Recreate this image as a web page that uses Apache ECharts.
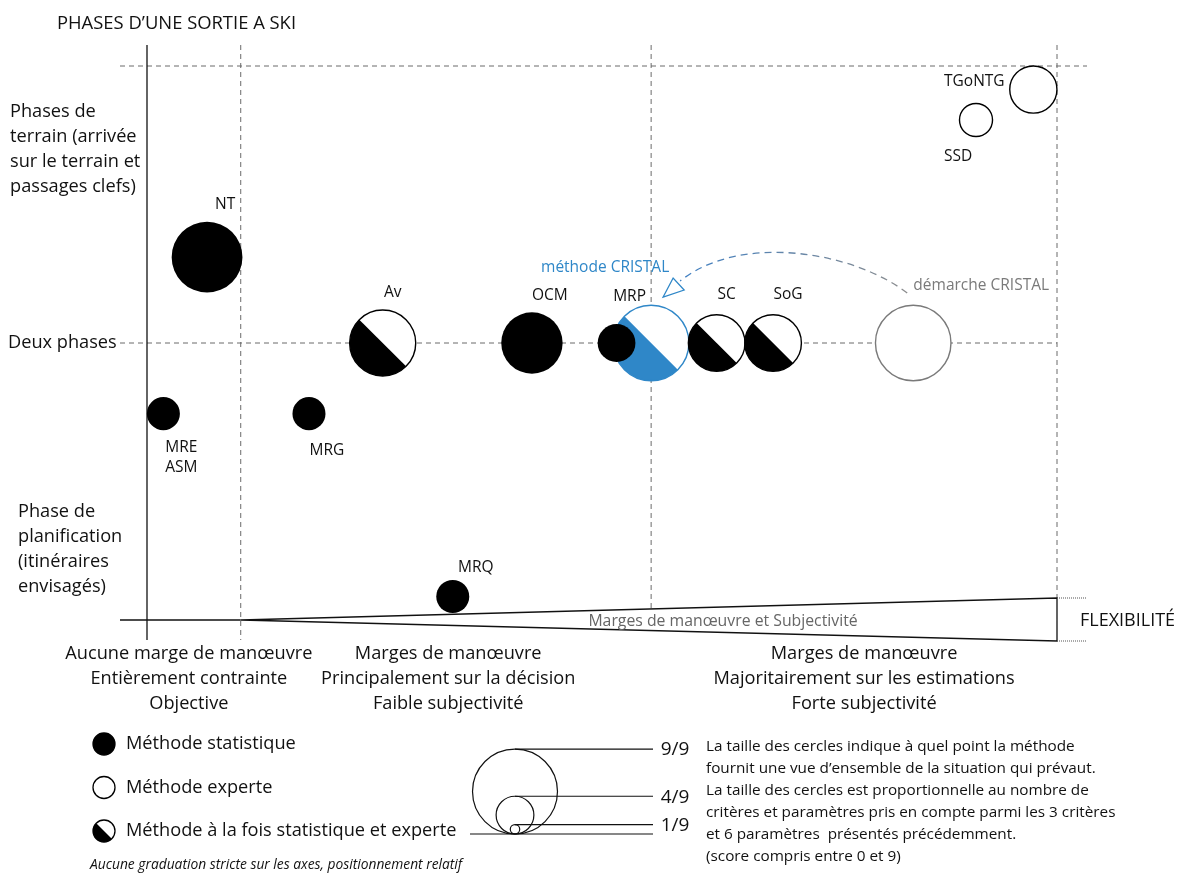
<!DOCTYPE html>
<html>
<head>
<meta charset="utf-8">
<title>Phases d'une sortie à ski</title>
<script src="https://cdn.jsdelivr.net/npm/echarts@6/dist/echarts.min.js"></script>
<style>
  html, body { margin: 0; padding: 0; background: #fff; }
  #chart { width: 1177px; height: 874px; }
</style>
</head>
<body>
<div id="chart"></div>
<script>
// méthodes : flexibilité (0 - 100), phase (0 = planification, 1 = deux phases, 2 = terrain), score (0 - 9)
const methodNames = ['NT', 'MRE\nASM', 'MRG', 'Av', 'OCM', 'méthode CRISTAL', 'MRP', 'SC', 'SoG', 'démarche CRISTAL', 'TGoNTG', 'SSD', 'MRQ']
const methodFlex = [6.6, 1.8, 17.8, 25.9, 42.3, 55.4, 51.6, 62.6, 68.8, 84.2, 97.4, 91.1, 33.6]
const methodPhase = [1.31, 0.745, 0.745, 1, 1, 1, 1, 1, 1, 1, 1.915, 1.805, 0.085]
const methodScore = [7.5, 3.5, 3.5, 7, 6.5, 8, 4, 6, 6, 8, 5, 3.5, 3.5]
const methodType = ['stat', 'stat', 'stat', 'mixte', 'stat', 'mixte', 'stat', 'mixte', 'mixte', 'experte', 'experte', 'experte', 'stat']

// axe vertical
const phaseTicks = [0, 1, 2]
const phaseLabels = ['Phase de\nplanification\n(itinéraires\nenvisagés)', 'Deux phases', 'Phases de\nterrain (arrivée\nsur le terrain et\npassages clefs)']
const phaseLabelAt = [0.255, 1, 1.70]

// axe horizontal (flexibilité)
const zoneBounds = [10.3, 55.4, 100]
const zoneLabels = [
  'Aucune marge de manœuvre\nEntièrement contrainte\nObjective',
  'Marges de manœuvre\nPrincipalement sur la décision\nFaible subjectivité',
  'Marges de manœuvre\nMajoritairement sur les estimations\nForte subjectivité'
]
const zoneLabelAt = [4.6, 33.1, 78.8]
const wedgeLabelAt = 63.3

// légende des tailles
const legendScores = [9, 4, 1]
const legendScoreLabels = ['9/9', '4/9', '1/9']

const FONT = '"Open Sans", Lato, sans-serif'
const BIG = 18.2
const BLUE = '#2f87c8'
const GREY = '#7a7a7a'
const R_PER_SCORE = 4.72

// position des étiquettes autour des cercles (px)
const labelOffset = {
  'NT': [18, -53], 'MRE\nASM': [18, 44], 'MRG': [18, 37], 'Av': [10, -50], 'OCM': [18, -47],
  'méthode CRISTAL': [-46, -75], 'MRP': [13, -46], 'SC': [10, -48], 'SoG': [15, -48],
  'démarche CRISTAL': [68, -57], 'TGoNTG': [-59, -8], 'SSD': [-18, 37], 'MRQ': [23, -29]
}

let chart = echarts.init(document.getElementById('chart'))

function dashed(x1, y1, x2, y2) {
  return {
    type: 'line', shape: {x1: x1, y1: y1, x2: x2, y2: y2},
    style: {stroke: '#6b6b6b', lineWidth: 1, lineDash: [5, 4]}
  }
}

function renderGuides(params, api) {
  let o = api.coord([0, 0])
  let top = api.coord([0, 2])[1]
  let mid = api.coord([0, 1])[1]
  let xs = zoneBounds.map(v => api.coord([v, 0])[0])
  let yTopEnd = o[1] - 22
  let yBotEnd = o[1] + 21
  let children = []

  // lignes pointillées
  children.push(dashed(o[0] - 27, top, xs[2] + 30, top))
  children.push(dashed(o[0] - 27, mid, xs[2], mid))
  children.push(dashed(xs[0], top - 21, xs[0], o[1] + 20))
  let yWedgeMid = o[1] - 22 * (xs[1] - xs[0]) / (xs[2] - xs[0])
  children.push(dashed(xs[1], top - 21, xs[1], yWedgeMid))
  children.push(dashed(xs[2], top - 21, xs[2], yTopEnd))

  // axes
  children.push({type: 'line', shape: {x1: o[0], y1: top - 21, x2: o[0], y2: o[1] + 20},
    style: {stroke: '#111', lineWidth: 1.3}})
  children.push({type: 'line', shape: {x1: o[0] - 27, y1: o[1], x2: xs[0], y2: o[1]},
    style: {stroke: '#111', lineWidth: 1.3}})
  children.push({type: 'polygon', shape: {points: [[xs[0], o[1]], [xs[2], yTopEnd], [xs[2], yBotEnd]]},
    style: {fill: 'none', stroke: '#111', lineWidth: 1.3}})
  children.push({type: 'line', shape: {x1: xs[2], y1: yTopEnd, x2: xs[2] + 30, y2: yTopEnd},
    style: {stroke: '#555', lineWidth: 1, lineDash: [1, 1]}})
  children.push({type: 'line', shape: {x1: xs[2], y1: yBotEnd, x2: xs[2] + 30, y2: yBotEnd},
    style: {stroke: '#555', lineWidth: 1, lineDash: [1, 1]}})

  children.push({type: 'text', style: {
    text: 'Marges de manœuvre et Subjectivité', x: api.coord([wedgeLabelAt, 0])[0], y: o[1] + 1,
    align: 'center', verticalAlign: 'middle', fill: '#666', fontSize: 15.8, fontFamily: FONT}})
  children.push({type: 'text', style: {
    text: 'FLEXIBILITÉ', x: xs[2] + 23, y: o[1] + 1,
    align: 'left', verticalAlign: 'middle', fill: '#111', fontSize: 18, fontFamily: FONT}})

  // étiquettes de l'axe vertical
  phaseTicks.forEach((t, i) => {
    let lx = i === 1 ? 8 : (i === 0 ? 18 : 10)
    children.push({type: 'text', style: {
      text: phaseLabels[i], x: lx, y: api.coord([0, phaseLabelAt[i]])[1],
      align: 'left', verticalAlign: 'middle', lineHeight: 25,
      fill: '#111', fontSize: BIG, fontFamily: FONT}})
  })

  // étiquettes de l'axe horizontal
  zoneLabels.forEach((t, i) => {
    children.push({type: 'text', style: {
      text: t, x: api.coord([zoneLabelAt[i], 0])[0], y: o[1] + 21,
      align: 'center', verticalAlign: 'top', lineHeight: 25,
      fill: '#111', fontSize: BIG, fontFamily: FONT}})
  })

  return {type: 'group', children: children}
}

function renderMethod(params, api) {
  let i = params.dataIndex
  let p = api.coord([api.value(0), api.value(1)])
  let r = api.value(2) * R_PER_SCORE
  let name = methodNames[i]
  let kind = methodType[i]
  let ink = name === 'méthode CRISTAL' ? BLUE : (name === 'démarche CRISTAL' ? GREY : '#000')
  let children = []

  if (kind === 'stat') {
    children.push({type: 'circle', shape: {cx: p[0], cy: p[1], r: r}, style: {fill: ink}})
  } else {
    children.push({type: 'circle', shape: {cx: p[0], cy: p[1], r: r}, style: {fill: '#fff'}})
    if (kind === 'mixte') {
      children.push({type: 'sector',
        shape: {cx: p[0], cy: p[1], r0: 0, r: r, startAngle: Math.PI / 4, endAngle: Math.PI * 5 / 4, clockwise: true},
        style: {fill: ink}})
    }
    children.push({type: 'circle', shape: {cx: p[0], cy: p[1], r: r},
      style: {fill: 'none', stroke: ink, lineWidth: 1.4}})
  }

  let off = labelOffset[name]
  children.push({type: 'text', style: {
    text: name, x: p[0] + off[0], y: p[1] + off[1], align: 'center', verticalAlign: 'middle',
    lineHeight: 20, fill: ink === '#000' ? '#111' : ink, fontSize: 15.5, fontFamily: FONT}})

  return {type: 'group', children: children}
}

function renderArrow(params, api) {
  let iTo = methodNames.indexOf('méthode CRISTAL')
  let iFrom = methodNames.indexOf('démarche CRISTAL')
  let a = api.coord([methodFlex[iFrom], methodPhase[iFrom]])
  let b = api.coord([methodFlex[iTo], methodPhase[iTo]])
  let s = [a[0] - 6, a[1] - 50]
  let e = [b[0] + 29, b[1] - 62]
  return {type: 'group', children: [
    {type: 'bezierCurve',
      shape: {x1: s[0], y1: s[1], cpx1: s[0] - 55, cpy1: s[1] - 42, cpx2: e[0] + 60, cpy2: e[1] - 48, x2: e[0], y2: e[1]},
      style: {fill: 'none', lineWidth: 1.3, lineDash: [7, 5],
        stroke: new echarts.graphic.LinearGradient(1, 0, 0, 0, [
          {offset: 0, color: '#8c8c8c'}, {offset: 1, color: '#3f80c4'}])}},
    {type: 'polygon', shape: {points: [[b[0] + 12, b[1] - 46], [b[0] + 22, b[1] - 65], [b[0] + 33, b[1] - 53]]},
      style: {fill: '#fff', stroke: BLUE, lineWidth: 1.3}}
  ]}
}

// légende
let legendItems = []
let legendNames = ['Méthode statistique', 'Méthode experte', 'Méthode à la fois statistique et experte']
legendNames.forEach((t, i) => {
  let cy = 744 + i * 43.5
  legendItems.push({type: 'circle', shape: {cx: 104, cy: cy, r: 11},
    style: {fill: i === 0 ? '#000' : '#fff', stroke: '#000', lineWidth: 1.3}})
  if (i === 2) {
    legendItems.push({type: 'sector',
      shape: {cx: 104, cy: cy, r0: 0, r: 11, startAngle: Math.PI / 4, endAngle: Math.PI * 5 / 4, clockwise: true},
      style: {fill: '#000'}})
  }
  legendItems.push({type: 'text', style: {text: t, x: 126, y: cy, verticalAlign: 'middle',
    fill: '#111', fontSize: BIG, fontFamily: FONT}})
})
legendItems.push({type: 'text', style: {
  text: 'Aucune graduation stricte sur les axes, positionnement relatif', x: 90, y: 865,
  verticalAlign: 'middle', fill: '#111', fontSize: 13.8, fontStyle: 'italic', fontFamily: FONT}})

// légende des tailles de cercles
let base = 834
legendItems.push({type: 'line', shape: {x1: 470, y1: base, x2: 653, y2: base}, style: {stroke: '#111', lineWidth: 1.2}})
legendScores.forEach((sc, i) => {
  let r = sc * R_PER_SCORE
  legendItems.push({type: 'circle', shape: {cx: 515, cy: base - r, r: r},
    style: {fill: 'none', stroke: '#111', lineWidth: 1.2}})
  legendItems.push({type: 'line', shape: {x1: 515, y1: base - 2 * r, x2: 653, y2: base - 2 * r},
    style: {stroke: '#111', lineWidth: 1.2}})
  legendItems.push({type: 'text', style: {text: legendScoreLabels[i], x: 675, y: base - 2 * r + 1,
    align: 'center', verticalAlign: 'middle', fill: '#111', fontSize: 19, fontFamily: FONT}})
})
legendItems.push({type: 'text', style: {
  text: 'La taille des cercles indique à quel point la méthode\n' +
    'fournit une vue d’ensemble de la situation qui prévaut.\n' +
    'La taille des cercles est proportionnelle au nombre de\n' +
    'critères et paramètres pris en compte parmi les 3 critères\n' +
    'et 6 paramètres  présentés précédemment.\n' +
    '(score compris entre 0 et 9)',
  x: 706, y: 736, verticalAlign: 'top', lineHeight: 22, fill: '#111', fontSize: 15.3, fontFamily: FONT}})

let option = {
  animation: false,
  title: {
    text: 'PHASES D’UNE SORTIE A SKI',
    left: 52, top: 10,
    textStyle: {fontSize: 18.4, fontWeight: 'normal', color: '#111', fontFamily: FONT}
  },
  grid: {left: 147, right: 120, top: 66, bottom: 254},
  xAxis: {type: 'value', min: 0, max: 100, show: false},
  yAxis: {type: 'value', min: 0, max: 2, show: false},
  graphic: legendItems,
  series: [
    {type: 'custom', name: 'guides', silent: true, clip: false, renderItem: renderGuides, data: [[0, 0]]},
    {type: 'custom', name: 'arrow', silent: true, clip: false, renderItem: renderArrow, data: [[0, 0]]},
    {
      type: 'custom', name: 'méthodes', silent: true, clip: false, renderItem: renderMethod,
      encode: {x: 0, y: 1},
      data: methodNames.map((n, i) => [methodFlex[i], methodPhase[i], methodScore[i]])
    }
  ]
}
chart.setOption(option)
</script>
</body>
</html>
